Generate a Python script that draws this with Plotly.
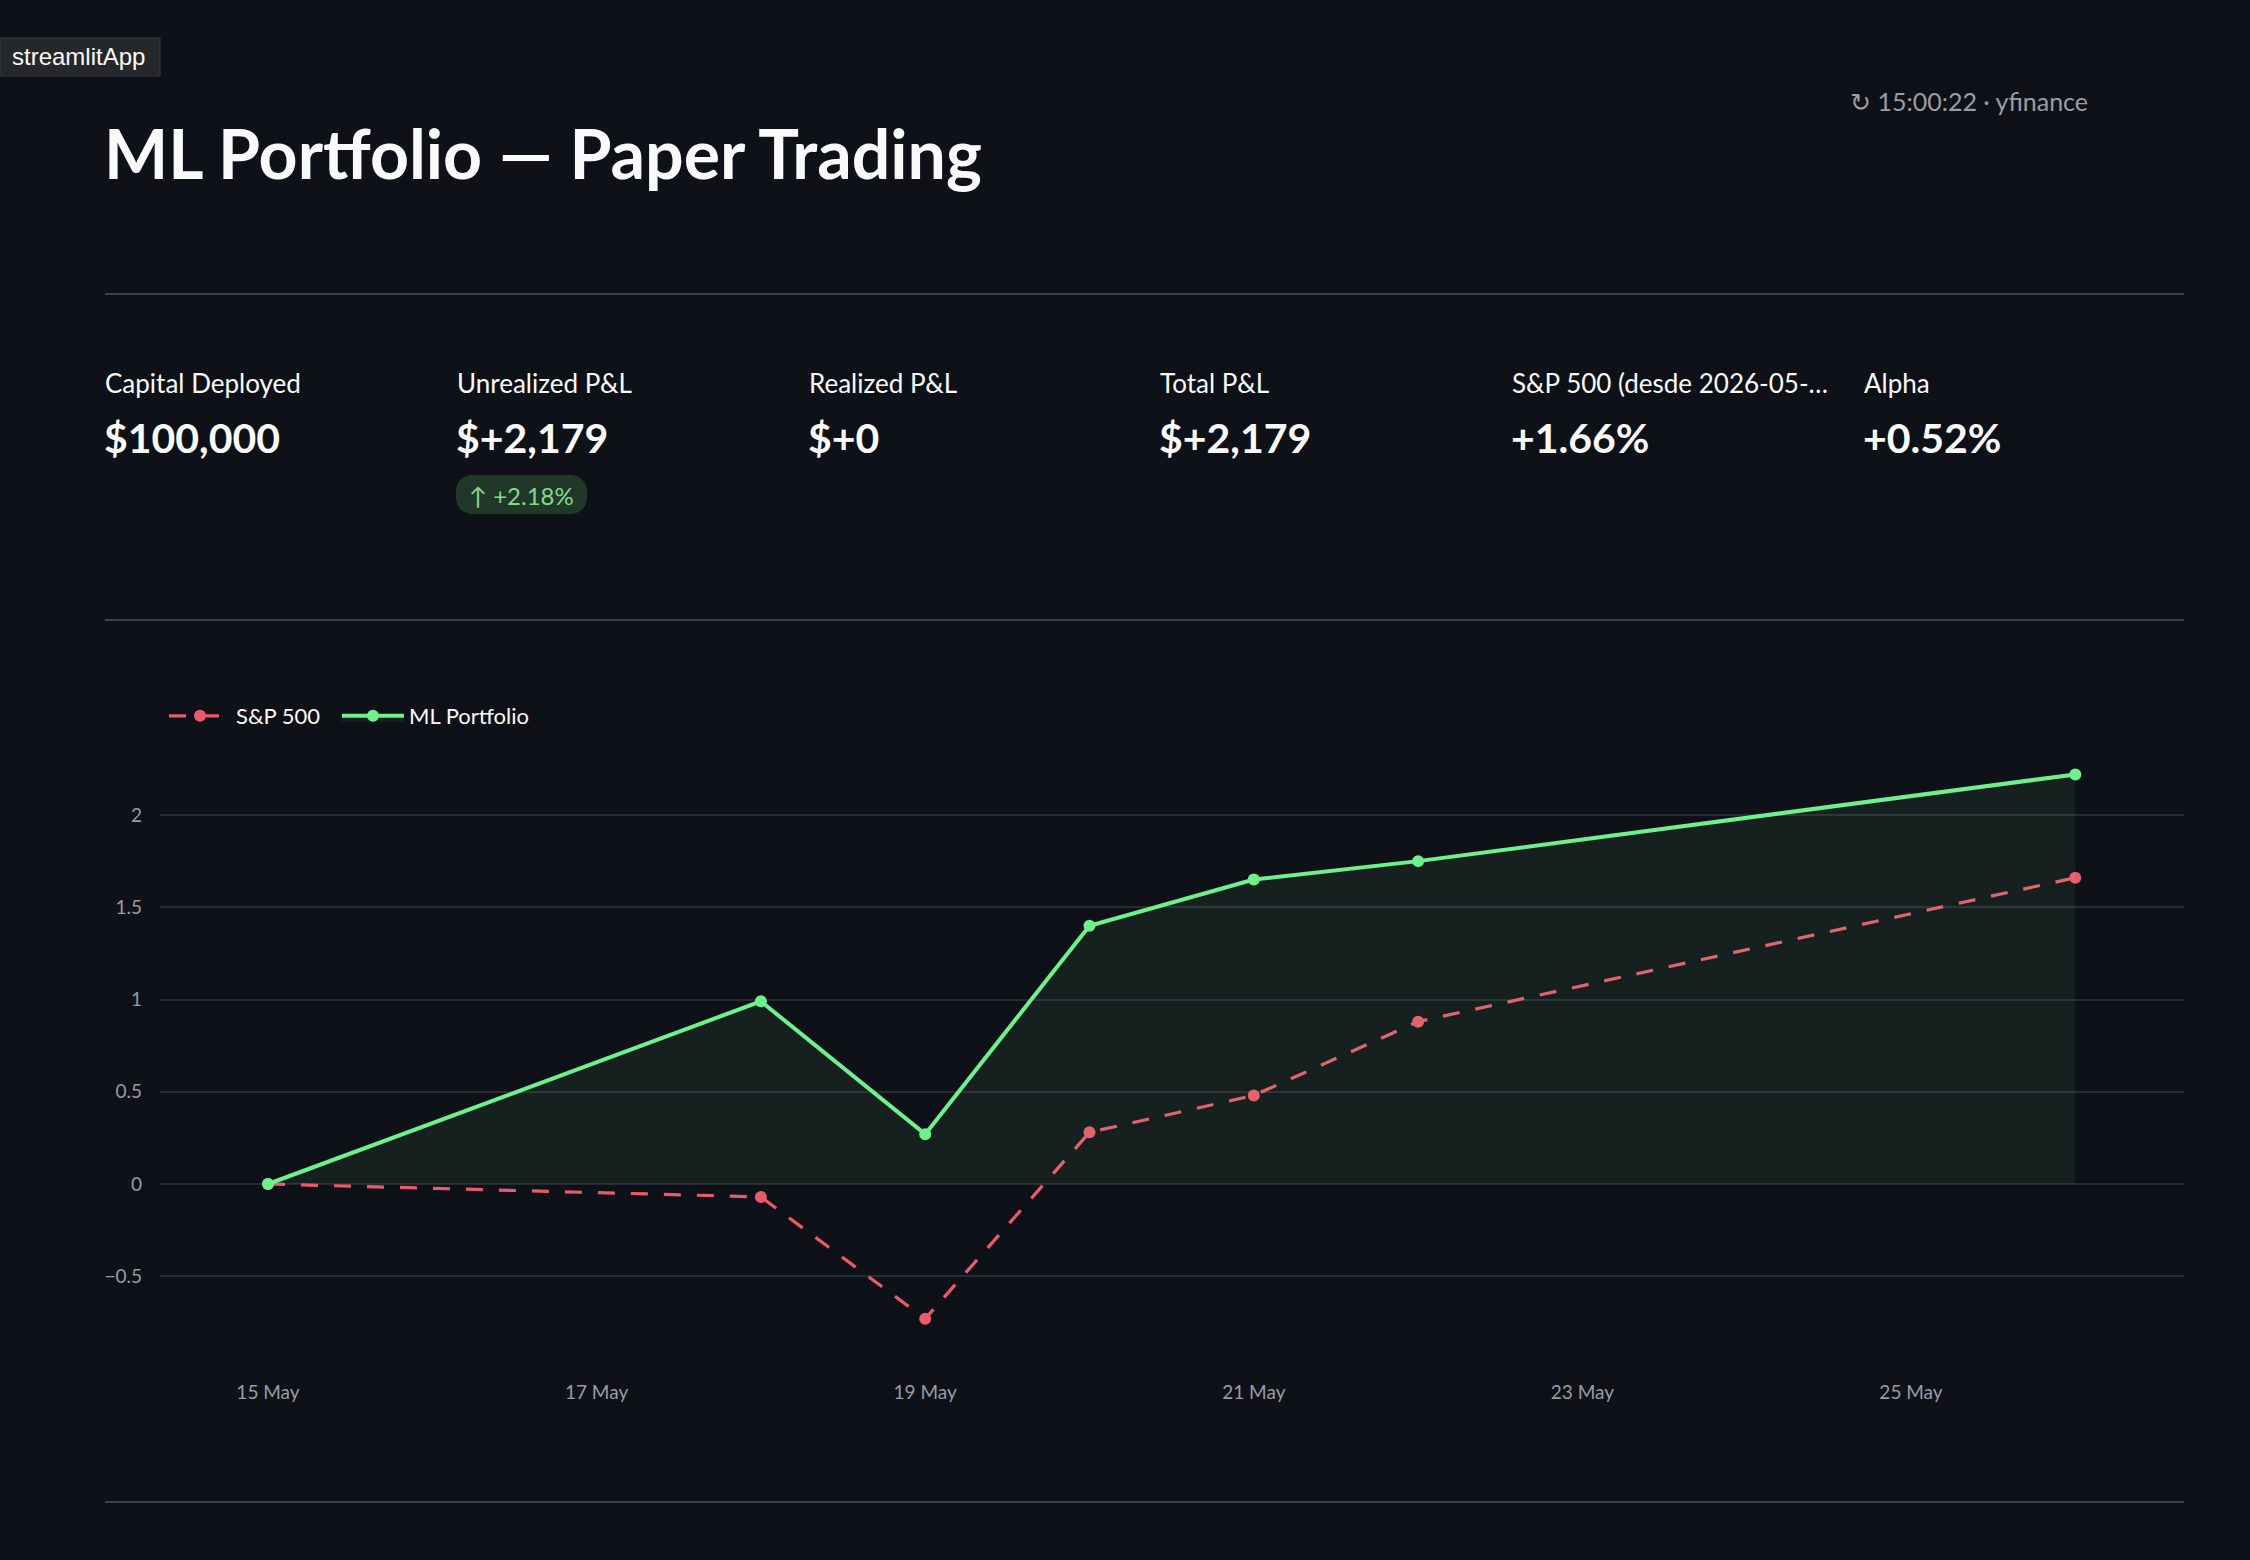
import plotly.graph_objects as go
import pandas as pd

# ---------------- data ----------------
dates = ["2026-05-15", "2026-05-18", "2026-05-19", "2026-05-20",
         "2026-05-21", "2026-05-22", "2026-05-26"]
sp500_pct = [0.0, -0.07, -0.73, 0.28, 0.48, 0.88, 1.66]
portfolio_pct = [0.0, 0.99, 0.27, 1.40, 1.65, 1.75, 2.22]

series_names = ["S&P 500", "ML Portfolio"]

metric_labels = ["Capital Deployed", "Unrealized P&L", "Realized P&L",
                 "Total P&L", "S&P 500 (desde 2026-05-…", "Alpha"]
metric_values = ["$100,000", "$+2,179", "$+0", "$+2,179", "+1.66%", "+0.52%"]
delta_text = "↑ +2.18%"

page_title = "ML Portfolio — Paper Trading"
caption_text = "↻ 15:00:22 · yfinance"
badge_text = "streamlitApp"

# ---------------- style ----------------
W, H = 2250, 1560
BG = "#0e1117"
RED = "#ea5a6d"
GREEN = "#6ef08c"
GRID = "#272a31"
DIVIDER = "#3d4044"
TICK = "#9a9ca5"
WHITE = "#fafafa"
FONT = "Lato, 'Source Sans Pro', 'Noto Sans', sans-serif"


def px(x):
    return x / W


def py(y):
    return 1 - y / H


# plot area in page pixels
PL, PR, PT, PB = 160, 2184, 750, 1354
Y0_PX, Y_UNIT = 1184.0, 184.5          # pixel of value 0, pixels per 1 %
X0_PX, DAY_PX = 268.0, 164.3            # pixel of first date, pixels per day
t0 = pd.Timestamp(dates[0])
x_start = t0 + pd.Timedelta(days=(PL - X0_PX) / DAY_PX)
x_end = t0 + pd.Timedelta(days=(PR - X0_PX) / DAY_PX)
y_lo = (Y0_PX - PB) / Y_UNIT
y_hi = (Y0_PX - PT) / Y_UNIT

fig = go.Figure()
fig.add_trace(go.Scatter(
    x=dates, y=sp500_pct, name=series_names[0], mode="lines+markers",
    line=dict(color=RED, width=3.2, dash="17px,16px"),
    marker=dict(size=12, color=RED), legend="legend",
))
fig.add_trace(go.Scatter(
    x=dates, y=portfolio_pct, name=series_names[1], mode="lines+markers",
    line=dict(color=GREEN, width=4),
    marker=dict(size=12, color=GREEN),
    fill="tozeroy", fillcolor="rgba(110,240,140,0.07)", legend="legend2",
))

shapes = []
annotations = []

# badge
shapes.append(dict(type="rect", xref="paper", yref="paper",
                   x0=px(0), x1=px(160), y0=py(38), y1=py(76),
                   fillcolor="#26272b", line=dict(color="#3a3b40", width=1), layer="below"))
annotations.append(dict(text=badge_text, x=px(78), y=py(57), xref="paper", yref="paper",
                        xanchor="center", yanchor="middle", showarrow=False,
                        font=dict(family="'Liberation Sans', Arial, sans-serif", size=24, color=WHITE)))

# title and caption
annotations.append(dict(text="<b>" + page_title + "</b>", x=px(102), y=py(153),
                        xref="paper", yref="paper", xanchor="left", yanchor="middle",
                        showarrow=False, font=dict(family=FONT, size=68, color=WHITE)))
annotations.append(dict(text=caption_text, x=px(2090), y=py(101),
                        xref="paper", yref="paper", xanchor="right", yanchor="middle",
                        showarrow=False, font=dict(family=FONT, size=25, color="#9c9da3")))

# dividers
for yy in (294, 620, 1502):
    shapes.append(dict(type="line", xref="paper", yref="paper",
                       x0=px(105), x1=px(2184), y0=py(yy), y1=py(yy),
                       line=dict(color=DIVIDER, width=2)))

# metrics
for i, (lab, val) in enumerate(zip(metric_labels, metric_values)):
    mx = 105 + i * 351.8
    annotations.append(dict(text=lab, x=px(mx - 2), y=py(383), xref="paper", yref="paper",
                            xanchor="left", yanchor="middle", showarrow=False,
                            font=dict(family=FONT, size=26, color=WHITE)))
    annotations.append(dict(text="<b>" + val + "</b>", x=px(mx - 3), y=py(437),
                            xref="paper", yref="paper", xanchor="left", yanchor="middle",
                            showarrow=False, font=dict(family=FONT, size=41, color=WHITE)))

# delta pill (rounded rectangle)
x0, x1, y0, y1, r = 456, 587, 475, 514, 16
k = 0.5523 * r
pts = [
    f"M{px(x0 + r)},{py(y0)}",
    f"L{px(x1 - r)},{py(y0)}",
    f"C{px(x1 - r + k)},{py(y0)} {px(x1)},{py(y0 + r - k)} {px(x1)},{py(y0 + r)}",
    f"L{px(x1)},{py(y1 - r)}",
    f"C{px(x1)},{py(y1 - r + k)} {px(x1 - r + k)},{py(y1)} {px(x1 - r)},{py(y1)}",
    f"L{px(x0 + r)},{py(y1)}",
    f"C{px(x0 + r - k)},{py(y1)} {px(x0)},{py(y1 - r + k)} {px(x0)},{py(y1 - r)}",
    f"L{px(x0)},{py(y0 + r)}",
    f"C{px(x0)},{py(y0 + r - k)} {px(x0 + r - k)},{py(y0)} {px(x0 + r)},{py(y0)}",
    "Z",
]
shapes.append(dict(type="path", xref="paper", yref="paper", path=" ".join(pts),
                   fillcolor="#213829", line=dict(width=0), layer="below"))
annotations.append(dict(text=delta_text, x=px((x0 + x1) / 2), y=py(495), xref="paper", yref="paper",
                        xanchor="center", yanchor="middle", showarrow=False,
                        font=dict(family=FONT, size=24, color="#7fdc8f")))

legend_common = dict(orientation="h", yanchor="middle", xanchor="left",
                     font=dict(family=FONT, size=22, color=WHITE),
                     bgcolor="rgba(0,0,0,0)", itemwidth=62)

fig.update_layout(
    width=W, height=H,
    margin=dict(l=0, r=0, t=0, b=0),
    paper_bgcolor=BG, plot_bgcolor=BG,
    font=dict(family=FONT, color=TICK, size=19),
    showlegend=True,
    legend=dict(x=px(164), y=py(716), **legend_common),
    legend2=dict(x=px(337), y=py(716), **legend_common),
    xaxis=dict(domain=[px(PL), px(PR)], type="date", range=[x_start, x_end],
               tick0=dates[0], dtick=2 * 86400000, tickformat="%-d %b",
               showgrid=False, zeroline=False, showline=False,
               tickfont=dict(size=19, color=TICK), ticklabelstandoff=25),
    yaxis=dict(domain=[py(PB), py(PT)], range=[y_lo, y_hi], dtick=0.5,
               showgrid=True, gridcolor=GRID, gridwidth=2,
               zeroline=True, zerolinecolor=GRID, zerolinewidth=2, showline=False,
               tickfont=dict(size=19, color=TICK), ticklabelstandoff=17),
    shapes=shapes,
    annotations=annotations,
    hovermode=False,
)

fig.write_html("out.html")
